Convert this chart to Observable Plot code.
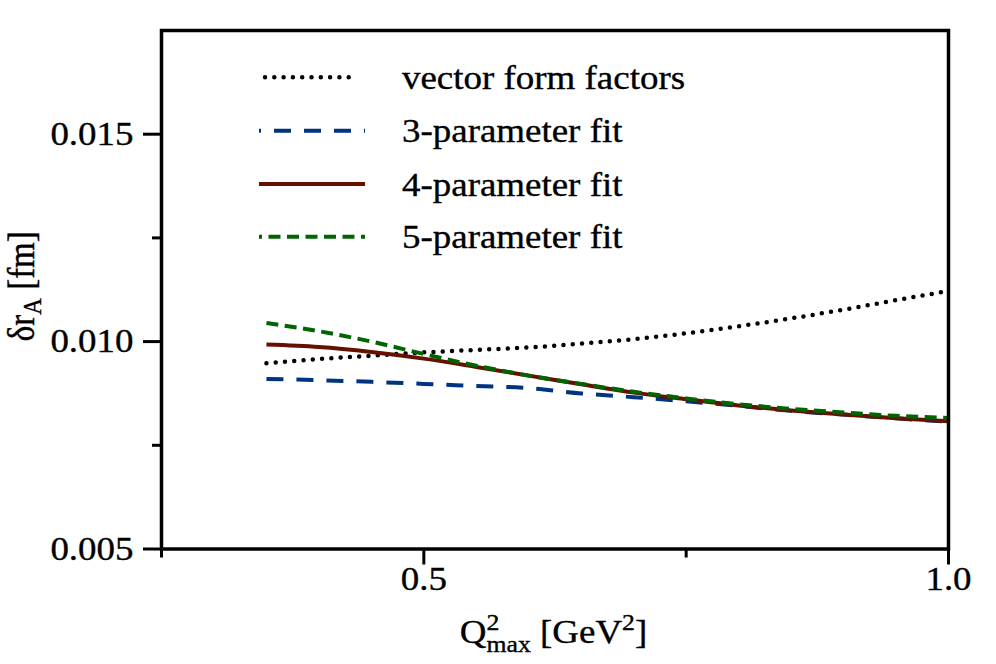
<!DOCTYPE html>
<html><head><meta charset="utf-8">
<script src="https://cdn.jsdelivr.net/npm/d3@7"></script>
<script src="https://cdn.jsdelivr.net/npm/@observablehq/plot@0.6"></script>
<style>
html,body{margin:0;padding:0;background:#fff;}
#chart{width:996px;height:664px;}
#chart svg, #chart svg text{font-family:"Liberation Serif", "Times New Roman", serif !important;}
#chart svg text{stroke:#000;stroke-width:0.35px;paint-order:stroke;}
</style></head><body><div id="chart"></div>
<script>
// Q^2_max values (GeV^2)
const qMax = [0.35, 0.40, 0.45, 0.50, 0.55, 0.60, 0.65, 0.70, 0.75, 0.80, 0.85, 0.90, 0.95, 1.00];
// delta r_A (fm) for each series
const vectorFF = [0.00948, 0.00958, 0.00966, 0.00974, 0.00980, 0.00986, 0.00995, 0.01006, 0.01020, 0.01037, 0.01056, 0.01077, 0.01100, 0.01122];
const fit3 = [0.00910, 0.00907, 0.00903, 0.00898, 0.00893, 0.00888, 0.00875, 0.00866, 0.00856, 0.00845, 0.00833, 0.00824, 0.00815, 0.00807];
const fit4 = [0.00993, 0.00987, 0.00975, 0.00959, 0.00939, 0.00918, 0.00897, 0.00877, 0.00861, 0.00846, 0.00834, 0.00824, 0.00815, 0.00808];
const fit5 = [0.01045, 0.01025, 0.01000, 0.00970, 0.00942, 0.00918, 0.00898, 0.00879, 0.00863, 0.00849, 0.00838, 0.00829, 0.00821, 0.00816];
const seriesNames = ["vector form factors", "3-parameter fit", "4-parameter fit", "5-parameter fit"];
const yMajorTicks = [0.005, 0.010, 0.015];
const yMinorTicks = [0.0075, 0.0125];
const xMajorTicks = [0.5, 1.0];
const xMinorTicks = [0.25, 0.75];

const FONT = '"Liberation Serif", "Times New Roman", serif';
const SX = 1.12; // horizontal widening of the lettering
const toRows = (vals) => qMax.map((x, i) => ({x, y: vals[i]}));
const styles = [
  {stroke: "#000000", strokeWidth: 4.5, strokeDasharray: "0 9.3", strokeLinecap: "round", dashoffset: 0},
  {stroke: "#003380", strokeWidth: 4, strokeDasharray: "17 13", strokeLinecap: "butt", dashoffset: 15},
  {stroke: "#661100", strokeWidth: 4, strokeDasharray: null, strokeLinecap: "butt", dashoffset: 0},
  {stroke: "#006400", strokeWidth: 4, strokeDasharray: "12 6.5", strokeLinecap: "butt", dashoffset: 9}
];
const seriesData = [vectorFF, fit3, fit4, fit5];
const drawOrder = [0, 1, 2, 3];

const lineMarks = drawOrder.map(i => Plot.line(toRows(seriesData[i]), {
  x: "x", y: "y", curve: "monotone-x",
  stroke: styles[i].stroke, strokeWidth: styles[i].strokeWidth,
  strokeDasharray: styles[i].strokeDasharray, strokeLinecap: styles[i].strokeLinecap
}));

const plot = Plot.plot({
  width: 996, height: 664,
  marginLeft: 161, marginRight: 48, marginTop: 30, marginBottom: 115.5,
  style: {fontFamily: FONT, fontSize: "33px", background: "#fff", color: "#000"},
  x: {domain: [0.25, 1.0]},
  y: {domain: [0.005, 0.0175]},
  marks: [
    ...lineMarks,
    Plot.frame({stroke: "#000", strokeWidth: 3.5}),
    Plot.axisY(yMajorTicks, {tickSize: 18, tickPadding: 10, tickFormat: d3.format(".3f"), strokeWidth: 3, fontSize: 33, label: null}),
    Plot.axisY(yMinorTicks, {tickSize: 9, tickFormat: () => "", strokeWidth: 3, label: null}),
    Plot.axisX(xMajorTicks, {tickSize: 16, tickPadding: 2, tickFormat: d3.format(".1f"), strokeWidth: 3, fontSize: 33, label: null}),
    Plot.axisX(xMinorTicks, {tickSize: 9, tickFormat: () => "", strokeWidth: 3, label: null})
  ]
});
document.getElementById("chart").appendChild(plot);

const svg = d3.select(plot).style("font-family", FONT);

// widen the tick labels horizontally about their anchor
svg.selectAll("text").each(function() {
  const t = this.getAttribute("transform");
  if (t) {
    this.setAttribute("transform", `${t} scale(${SX},1)`);
  } else {
    const x = +(this.getAttribute("x") || 0), y = +(this.getAttribute("y") || 0);
    this.removeAttribute("x"); this.removeAttribute("y");
    this.setAttribute("transform", `translate(${x},${y}) scale(${SX},1)`);
  }
});

const sx = plot.scale("x"), sy = plot.scale("y");
const cx = (sx.range[0] + sx.range[1]) / 2;
const cy = (sy.range[0] + sy.range[1]) / 2;

// x axis label: Q^2_max [GeV^2]
const xl = svg.append("text").attr("text-anchor", "middle")
  .attr("transform", `translate(${cx - 1},643) scale(${SX},1)`).style("font-size", "33px").attr("fill", "#000");
xl.append("tspan").text("Q");
xl.append("tspan").attr("dy", -13).style("font-size", "23px").text("2");
xl.append("tspan").attr("dx", -11.5).attr("dy", 22).style("font-size", "23px").text("max");
xl.append("tspan").attr("dy", -9).text("\u00a0[GeV");
xl.append("tspan").attr("dy", -13).style("font-size", "23px").text("2");
xl.append("tspan").attr("dy", 13).text("]");

// y axis label: δr_A [fm]
const yl = svg.append("text").attr("text-anchor", "middle")
  .attr("transform", `translate(34,${cy - 3}) rotate(-90) scale(1,${SX})`).style("font-size", "33px").attr("fill", "#000");
yl.append("tspan").text("δr");
yl.append("tspan").attr("dy", 6).style("font-size", "23px").text("A");
yl.append("tspan").attr("dy", -6).text("\u00a0[fm]");

// legend
const legendY = [77.3, 130.7, 184, 236.7];
const leg = svg.append("g");
seriesNames.forEach((name, i) => {
  const s = styles[i];
  const x0 = i === 0 ? 265 : 259, x1 = i === 0 ? 358 : 365;
  leg.append("line").attr("x1", x0).attr("x2", x1).attr("y1", legendY[i]).attr("y2", legendY[i])
    .attr("stroke", s.stroke).attr("stroke-width", s.strokeWidth)
    .attr("stroke-dasharray", s.strokeDasharray).attr("stroke-dashoffset", s.dashoffset)
    .attr("stroke-linecap", s.strokeLinecap);
  leg.append("text").attr("text-anchor", "start")
    .attr("transform", `translate(402,${legendY[i] + 11.5}) scale(${SX},1)`)
    .style("font-size", "33px").attr("fill", "#000").text(name);
});
</script>
</body></html>
